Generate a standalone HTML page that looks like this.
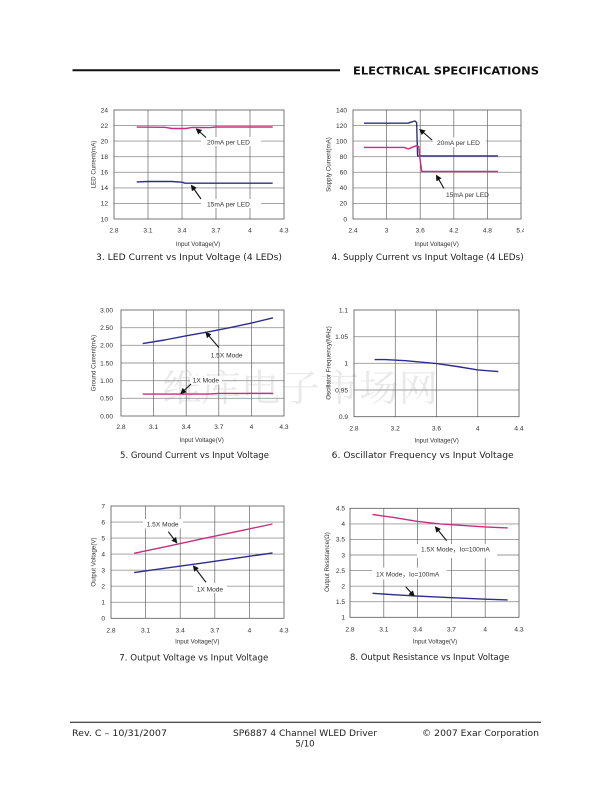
<!DOCTYPE html>
<html><head><meta charset="utf-8">
<style>
html,body{margin:0;padding:0;background:#fff;}
svg{display:block;}
.t{font-family:"Liberation Sans",Arial,sans-serif;font-size:6.6px;fill:#333;}
.yl{text-anchor:end;}
.xl{text-anchor:middle;}
.at{font-family:"Liberation Sans",Arial,sans-serif;font-size:6.2px;fill:#333;text-anchor:middle;}
.an{font-family:"Liberation Sans","Noto Sans CJK SC",sans-serif;font-size:6.6px;fill:#333;}
.cap{font-family:"DejaVu Sans","Liberation Sans",sans-serif;font-size:8.6px;fill:#222;}
.hg{stroke:#9a9a9a;stroke-width:0.9;}
.vg{stroke:#666;stroke-width:0.7;}
.fr{fill:none;stroke:#555;stroke-width:0.8;}
.pk{fill:none;stroke:#c4307f;stroke-width:1.4;stroke-linejoin:round;}
.bl{fill:none;stroke:#2e2e8a;stroke-width:1.4;stroke-linejoin:round;}
.ar{stroke:#111;stroke-width:1.1;marker-end:url(#ah);}
</style></head>
<body>
<svg width="612" height="792" viewBox="0 0 612 792" xmlns="http://www.w3.org/2000/svg">
<defs>
<marker id="ah" markerWidth="6" markerHeight="6" refX="5" refY="3" orient="auto" markerUnits="userSpaceOnUse">
<path d="M0,0 L6,3 L0,6 z" fill="#111"/>
</marker>
<clipPath id="c4"><rect x="0" y="0" width="524" height="792"/></clipPath>
</defs>
<rect width="612" height="792" fill="#fff"/>

<!-- watermark -->
<text x="300" y="401" text-anchor="middle" font-family="'Noto Serif CJK SC','Noto Sans CJK SC',serif" font-size="37" fill="#e9e9e9" textLength="276" lengthAdjust="spacingAndGlyphs">维库电子市场网</text>

<!-- header -->
<line x1="72.5" y1="70.3" x2="340" y2="70.3" stroke="#111" stroke-width="2"/>
<text x="353" y="74.6" font-family="'DejaVu Sans','Liberation Sans',sans-serif" font-weight="bold" font-size="10.5" fill="#111" textLength="186" lengthAdjust="spacingAndGlyphs">ELECTRICAL SPECIFICATIONS</text>

<!-- ============ Chart 3 ============ -->
<g>
<line class="hg" x1="114" y1="125.6" x2="284" y2="125.6"/>
<line class="hg" x1="114" y1="141.1" x2="284" y2="141.1"/>
<line class="hg" x1="114" y1="156.7" x2="284" y2="156.7"/>
<line class="hg" x1="114" y1="172.3" x2="284" y2="172.3"/>
<line class="hg" x1="114" y1="187.9" x2="284" y2="187.9"/>
<line class="hg" x1="114" y1="203.4" x2="284" y2="203.4"/>
<line class="vg" x1="148" y1="110" x2="148" y2="219"/>
<line class="vg" x1="182" y1="110" x2="182" y2="219"/>
<line class="vg" x1="216" y1="110" x2="216" y2="219"/>
<line class="vg" x1="250" y1="110" x2="250" y2="219"/>
<rect class="fr" x="114" y="110" width="170" height="109"/>
<path class="pk" d="M136.7,127.1 L165,127.3 L172,128.5 L186,128.5 L192,127.4 L210,127.6 L216,127.0 L272.7,127.0"/>
<path class="bl" d="M136.7,181.9 L148,181.5 L172,181.5 L182,182.2 L185,183.2 L272.7,183.2"/>
<rect x="201" y="137" width="60" height="9" fill="#fff"/>
<text class="an" x="207" y="144.5">20mA per LED</text>
<line class="ar" x1="206" y1="137.5" x2="196.5" y2="129"/>
<rect x="201" y="199" width="60" height="9" fill="#fff"/>
<text class="an" x="207" y="206.5">15mA per LED</text>
<line class="ar" x1="201" y1="199" x2="191.5" y2="185.5"/>
<text class="t yl" x="108" y="112.3">24</text>
<text class="t yl" x="108" y="127.9">22</text>
<text class="t yl" x="108" y="143.4">20</text>
<text class="t yl" x="108" y="159">18</text>
<text class="t yl" x="108" y="174.6">16</text>
<text class="t yl" x="108" y="190.2">14</text>
<text class="t yl" x="108" y="205.7">12</text>
<text class="t yl" x="108" y="221.3">10</text>
<text class="t xl" x="114" y="232.5">2.8</text>
<text class="t xl" x="148" y="232.5">3.1</text>
<text class="t xl" x="182" y="232.5">3.4</text>
<text class="t xl" x="216" y="232.5">3.7</text>
<text class="t xl" x="250" y="232.5">4</text>
<text class="t xl" x="284" y="232.5">4.3</text>
<text class="at" x="198" y="246">Input Voltage(V)</text>
<text class="at" transform="translate(95.3,164.5) rotate(-90)">LED Current(mA)</text>
<text class="cap" x="96" y="260" textLength="186" lengthAdjust="spacingAndGlyphs">3. LED Current vs Input Voltage (4 LEDs)</text>
</g>

<!-- ============ Chart 4 ============ -->
<g>
<line class="hg" x1="353" y1="125.6" x2="521" y2="125.6"/>
<line class="hg" x1="353" y1="141.1" x2="521" y2="141.1"/>
<line class="hg" x1="353" y1="156.7" x2="521" y2="156.7"/>
<line class="hg" x1="353" y1="172.3" x2="521" y2="172.3"/>
<line class="hg" x1="353" y1="187.9" x2="521" y2="187.9"/>
<line class="hg" x1="353" y1="203.4" x2="521" y2="203.4"/>
<line class="vg" x1="386.6" y1="110" x2="386.6" y2="219"/>
<line class="vg" x1="420.2" y1="110" x2="420.2" y2="219"/>
<line class="vg" x1="453.8" y1="110" x2="453.8" y2="219"/>
<line class="vg" x1="487.4" y1="110" x2="487.4" y2="219"/>
<rect class="fr" x="353" y="110" width="168" height="109"/>
<path class="bl" d="M364,123.2 L408,123.2 L412,121.8 L415,121.0 L416.6,122.5 L417.6,155.9 L498,155.9"/>
<path class="pk" d="M364,147.4 L404,147.4 L408.5,148.9 L412.5,147.2 L416,145.8 L418.8,146.6 L420,159 L421.8,171.5 L498,171.5"/>
<rect x="433" y="137.5" width="53" height="9.5" fill="#fff"/>
<text class="an" x="437" y="145.2">20mA per LED</text>
<line class="ar" x1="432" y1="140" x2="420" y2="129.5"/>
<text class="an" x="446" y="196.8">15mA per LED</text>
<line class="ar" x1="444" y1="188.5" x2="436.5" y2="175.5"/>
<text class="t yl" x="347" y="112.3">140</text>
<text class="t yl" x="347" y="127.9">120</text>
<text class="t yl" x="347" y="143.4">100</text>
<text class="t yl" x="347" y="159">80</text>
<text class="t yl" x="347" y="174.6">60</text>
<text class="t yl" x="347" y="190.2">40</text>
<text class="t yl" x="347" y="205.7">20</text>
<text class="t yl" x="347" y="221.3">0</text>
<text class="t xl" x="353" y="232.5">2.4</text>
<text class="t xl" x="386.6" y="232.5">3</text>
<text class="t xl" x="420.2" y="232.5">3.6</text>
<text class="t xl" x="453.8" y="232.5">4.2</text>
<text class="t xl" x="487.4" y="232.5">4.8</text>
<text class="t xl" x="521" y="232.5" clip-path="url(#c4)">5.4</text>
<text class="at" x="436.7" y="246">Input Voltage(V)</text>
<text class="at" transform="translate(330.3,164.5) rotate(-90)">Supply Current(mA)</text>
<text class="cap" x="331.7" y="260" textLength="192" lengthAdjust="spacingAndGlyphs">4. Supply Current vs Input Voltage (4 LEDs)</text>
</g>

<!-- ============ Chart 5 ============ -->
<g>
<line class="hg" x1="121" y1="327.7" x2="284" y2="327.7"/>
<line class="hg" x1="121" y1="345.3" x2="284" y2="345.3"/>
<line class="hg" x1="121" y1="363" x2="284" y2="363"/>
<line class="hg" x1="121" y1="380.7" x2="284" y2="380.7"/>
<line class="hg" x1="121" y1="398.3" x2="284" y2="398.3"/>
<line class="vg" x1="153.6" y1="310" x2="153.6" y2="416"/>
<line class="vg" x1="186.2" y1="310" x2="186.2" y2="416"/>
<line class="vg" x1="218.8" y1="310" x2="218.8" y2="416"/>
<line class="vg" x1="251.4" y1="310" x2="251.4" y2="416"/>
<rect class="fr" x="121" y="310" width="163" height="106"/>
<path class="bl" d="M142.7,343.6 L164.5,340 L186.2,335.8 L207.9,331.9 L229.7,327.7 L251.4,323.1 L273.1,317.8"/>
<path class="pk" d="M142.7,394.1 L207.9,394.1 L218.8,393.4 L273.1,393.4"/>
<text class="an" x="210.7" y="357.4">1.5X Mode</text>
<line class="ar" x1="219" y1="347.7" x2="206" y2="332.5"/>
<rect x="190" y="376" width="32" height="8.5" fill="#fff"/>
<text class="an" x="192.7" y="382.4">1X Mode</text>
<line class="ar" x1="191" y1="384" x2="181" y2="393.5"/>
<text class="t yl" x="113" y="312.3">3.00</text>
<text class="t yl" x="113" y="330">2.50</text>
<text class="t yl" x="113" y="347.6">2.00</text>
<text class="t yl" x="113" y="365.3">1.50</text>
<text class="t yl" x="113" y="383">1.00</text>
<text class="t yl" x="113" y="400.6">0.50</text>
<text class="t yl" x="113" y="418.3">0.00</text>
<text class="t xl" x="121" y="429">2.8</text>
<text class="t xl" x="153.6" y="429">3.1</text>
<text class="t xl" x="186.2" y="429">3.4</text>
<text class="t xl" x="218.8" y="429">3.7</text>
<text class="t xl" x="251.4" y="429">4</text>
<text class="t xl" x="284" y="429">4.3</text>
<text class="at" x="201.7" y="442">Input Voltage(V)</text>
<text class="at" transform="translate(95.3,363) rotate(-90)">Ground Current(mA)</text>
<text class="cap" x="120" y="458" textLength="149" lengthAdjust="spacingAndGlyphs">5. Ground Current vs Input Voltage</text>
</g>

<!-- ============ Chart 6 ============ -->
<g>
<line class="hg" x1="354" y1="336.7" x2="519" y2="336.7"/>
<line class="hg" x1="354" y1="363.35" x2="519" y2="363.35"/>
<line class="hg" x1="354" y1="390" x2="519" y2="390"/>
<line class="vg" x1="395.25" y1="310" x2="395.25" y2="416.7"/>
<line class="vg" x1="436.5" y1="310" x2="436.5" y2="416.7"/>
<line class="vg" x1="477.75" y1="310" x2="477.75" y2="416.7"/>
<rect class="fr" x="354" y="310" width="165" height="106.7"/>
<path class="bl" d="M374.6,359.6 L384.9,359.6 L405.6,360.7 L436.5,363.6 L457.1,366.5 L477.75,369.9 L498.4,371.6"/>
<text class="t yl" x="348" y="312.3">1.1</text>
<text class="t yl" x="348" y="339">1.05</text>
<text class="t yl" x="348" y="365.6">1</text>
<text class="t yl" x="348" y="392.3">0.95</text>
<text class="t yl" x="348" y="419">0.9</text>
<text class="t xl" x="354" y="430.5">2.8</text>
<text class="t xl" x="395.25" y="430.5">3.2</text>
<text class="t xl" x="436.5" y="430.5">3.6</text>
<text class="t xl" x="477.75" y="430.5">4</text>
<text class="t xl" x="519" y="430.5">4.4</text>
<text class="at" x="436.7" y="442.7">Input Voltage(V)</text>
<text class="at" transform="translate(330.3,363) rotate(-90)">Oscillator Frequency(MHz)</text>
<text class="cap" x="331.7" y="458" textLength="182" lengthAdjust="spacingAndGlyphs">6. Oscillator Frequency vs Input Voltage</text>
</g>

<!-- ============ Chart 7 ============ -->
<g>
<line class="hg" x1="111" y1="522.1" x2="284" y2="522.1"/>
<line class="hg" x1="111" y1="538.1" x2="284" y2="538.1"/>
<line class="hg" x1="111" y1="554.1" x2="284" y2="554.1"/>
<line class="hg" x1="111" y1="570.2" x2="284" y2="570.2"/>
<line class="hg" x1="111" y1="586.2" x2="284" y2="586.2"/>
<line class="hg" x1="111" y1="602.3" x2="284" y2="602.3"/>
<line class="vg" x1="145.6" y1="506" x2="145.6" y2="618.3"/>
<line class="vg" x1="180.2" y1="506" x2="180.2" y2="618.3"/>
<line class="vg" x1="214.8" y1="506" x2="214.8" y2="618.3"/>
<line class="vg" x1="249.4" y1="506" x2="249.4" y2="618.3"/>
<rect class="fr" x="111" y="506" width="173" height="112.3"/>
<path class="pk" d="M134.1,553.3 L168.7,546.1 L203.3,538.6 L237.9,531.3 L272.5,524"/>
<path class="bl" d="M134.1,572.6 L168.7,567.7 L203.3,562.9 L237.9,557.9 L272.5,553"/>
<rect x="143" y="519" width="40" height="9.5" fill="#fff"/>
<text class="an" x="146.7" y="526.7">1.5X Mode</text>
<line class="ar" x1="168.3" y1="531.7" x2="176.7" y2="542.7"/>
<rect x="193" y="583" width="34" height="10" fill="#fff"/>
<text class="an" x="196.7" y="591.6">1X Mode</text>
<line class="ar" x1="206" y1="582.3" x2="193.5" y2="566"/>
<text class="t yl" x="105" y="508.3">7</text>
<text class="t yl" x="105" y="524.4">6</text>
<text class="t yl" x="105" y="540.4">5</text>
<text class="t yl" x="105" y="556.4">4</text>
<text class="t yl" x="105" y="572.5">3</text>
<text class="t yl" x="105" y="588.5">2</text>
<text class="t yl" x="105" y="604.6">1</text>
<text class="t yl" x="105" y="620.6">0</text>
<text class="t xl" x="111" y="632.5">2.8</text>
<text class="t xl" x="145.6" y="632.5">3.1</text>
<text class="t xl" x="180.2" y="632.5">3.4</text>
<text class="t xl" x="214.8" y="632.5">3.7</text>
<text class="t xl" x="249.4" y="632.5">4</text>
<text class="t xl" x="284" y="632.5">4.3</text>
<text class="at" x="197.3" y="643.7">Input Voltage(V)</text>
<text class="at" transform="translate(95.5,562) rotate(-90)">Output Voltage(V)</text>
<text class="cap" x="119.3" y="660.5" textLength="149" lengthAdjust="spacingAndGlyphs">7. Output Voltage vs Input Voltage</text>
</g>

<!-- ============ Chart 8 ============ -->
<g>
<line class="hg" x1="350" y1="523.9" x2="519" y2="523.9"/>
<line class="hg" x1="350" y1="539.4" x2="519" y2="539.4"/>
<line class="hg" x1="350" y1="555" x2="519" y2="555"/>
<line class="hg" x1="350" y1="570.6" x2="519" y2="570.6"/>
<line class="hg" x1="350" y1="586.2" x2="519" y2="586.2"/>
<line class="hg" x1="350" y1="601.7" x2="519" y2="601.7"/>
<line class="vg" x1="383.8" y1="508.3" x2="383.8" y2="617.3"/>
<line class="vg" x1="417.6" y1="508.3" x2="417.6" y2="617.3"/>
<line class="vg" x1="451.4" y1="508.3" x2="451.4" y2="617.3"/>
<line class="vg" x1="485.2" y1="508.3" x2="485.2" y2="617.3"/>
<rect class="fr" x="350" y="508.3" width="169" height="109"/>
<path class="pk" d="M372.5,514.5 L395.1,517.7 L417.6,521.4 L440.1,523.9 L462.7,525.4 L485.2,526.9 L507.7,527.9"/>
<path class="bl" d="M372.5,593.3 L395.1,594.8 L417.6,596.1 L451.4,597.7 L485.2,599.2 L507.7,599.9"/>
<rect x="417" y="544" width="80" height="14" fill="#fff"/>
<text class="an" x="421" y="551.6">1.5X Mode，Io=100mA</text>
<line class="ar" x1="446.7" y1="540.7" x2="435.5" y2="527"/>
<rect x="372" y="567.5" width="75" height="12" fill="#fff"/>
<text class="an" x="376" y="576.6">1X Mode，Io=100mA</text>
<line class="ar" x1="405.7" y1="586.7" x2="414" y2="596"/>
<text class="t yl" x="345" y="510.6">4.5</text>
<text class="t yl" x="345" y="526.2">4</text>
<text class="t yl" x="345" y="541.7">3.5</text>
<text class="t yl" x="345" y="557.3">3</text>
<text class="t yl" x="345" y="572.9">2.5</text>
<text class="t yl" x="345" y="588.5">2</text>
<text class="t yl" x="345" y="604">1.5</text>
<text class="t yl" x="345" y="619.6">1</text>
<text class="t xl" x="350" y="631.5">2.8</text>
<text class="t xl" x="383.8" y="631.5">3.1</text>
<text class="t xl" x="417.6" y="631.5">3.4</text>
<text class="t xl" x="451.4" y="631.5">3.7</text>
<text class="t xl" x="485.2" y="631.5">4</text>
<text class="t xl" x="519" y="631.5" clip-path="url(#c4)">4.3</text>
<text class="at" x="435" y="643.7">Input Voltage(V)</text>
<text class="at" transform="translate(329,562) rotate(-90)">Output Resistance(Ω)</text>
<text class="cap" x="350" y="660" textLength="159.3" lengthAdjust="spacingAndGlyphs">8. Output Resistance vs Input Voltage</text>
</g>

<!-- footer -->
<line x1="70" y1="722.3" x2="541" y2="722.3" stroke="#111" stroke-width="1"/>
<g font-family="'DejaVu Sans','Liberation Sans',sans-serif" font-size="8.6" fill="#222">
<text x="72" y="736" textLength="95" lengthAdjust="spacingAndGlyphs">Rev. C – 10/31/2007</text>
<text x="233" y="736" textLength="144" lengthAdjust="spacingAndGlyphs">SP6887 4 Channel WLED Driver</text>
<text x="305" y="746.5" text-anchor="middle">5/10</text>
<text x="422" y="736" textLength="117" lengthAdjust="spacingAndGlyphs">© 2007 Exar Corporation</text>
</g>
</svg>
</body></html>
